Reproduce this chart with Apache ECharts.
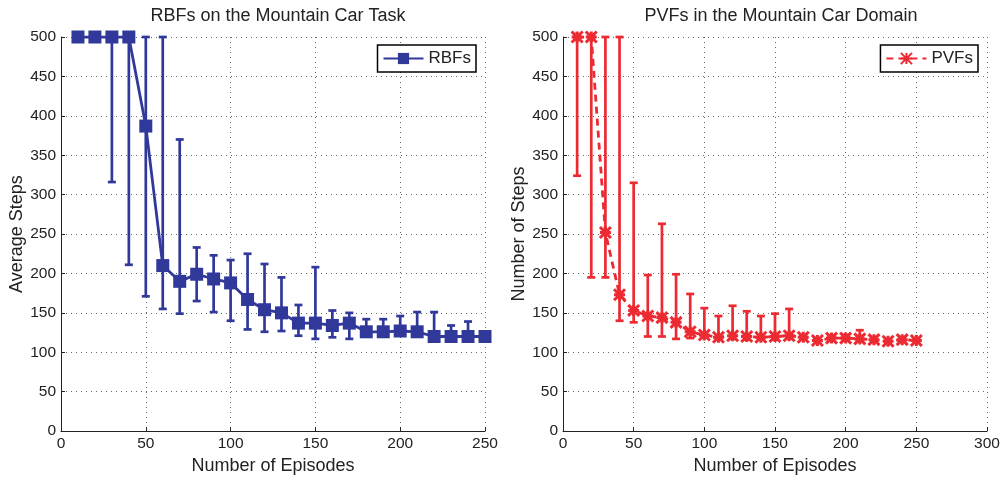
<!DOCTYPE html>
<html><head><meta charset="utf-8">
<script src="https://cdn.jsdelivr.net/npm/echarts@6/dist/echarts.min.js"></script>
<style>html,body{margin:0;padding:0;background:#fff}#c{width:1004px;height:480px}</style>
</head><body><div id="c"></div>
<script>
const episodes = [10,20,30,40,50,60,70,80,90,100,110,120,130,140,150,160,170,180,190,200,210,220,230,240,250];
const rbfMean = [500,500,500,500,387,210,190,199,193,188,167,154,150,137,137,134,137,126,126,127,126,120,120,120,120];
const rbfLow  = [500,500,316,211,171,155,149,165,151,140,129,126,127,121,117,119,117,121,120,123,122,118,118,118,120];
const rbfHigh = [500,500,500,500,500,500,370,233,223,217,225,212,195,160,208,153,150,142,142,146,151,151,134,139,120];
const pvfMean = [500,500,252,173,153,146,144,138,126,122,119,121,120,119,120,121,119,115,118,118,117,116,114,116,115];
const pvfLow  = [324,195,195,140,138,120,120,117,118,119,117,117,116,117,116,118,116,114,115,115,115,114,113,114,114];
const pvfHigh = [500,500,500,500,315,198,263,199,174,156,146,159,152,146,149,155,121,117,121,122,128,119,116,119,116];
const leftTitle = 'RBFs on the Mountain Car Task';
const rightTitle = 'PVFs in the Mountain Car Domain';

const BLUE = '#30399a';
const RED = '#ec2a32';
const FONT = '"Liberation Sans", Arial, sans-serif';

const chart = echarts.init(document.getElementById('c'), null, {renderer:'canvas'});

function errRender(color, capW, lw){
  return function(params, api){
    const x = api.value(0), lo = api.value(1), hi = api.value(2);
    if (hi - lo < 0.5) return null;
    const a = api.coord([x, lo]), b = api.coord([x, hi]);
    const st = {stroke: color, lineWidth: lw};
    return {type:'group', children:[
      {type:'line', shape:{x1:a[0], y1:a[1], x2:b[0], y2:b[1]}, style:st},
      {type:'line', shape:{x1:a[0]-capW, y1:a[1], x2:a[0]+capW, y2:a[1]}, style:st},
      {type:'line', shape:{x1:b[0]-capW, y1:b[1], x2:b[0]+capW, y2:b[1]}, style:st}
    ]};
  };
}
const pair = (xs, ys) => xs.map((x,i)=>[x, ys[i]]);
const triple = (xs, lo, hi) => xs.map((x,i)=>[x, lo[i], hi[i]]);

function xAxisDef(gi, max, name){
  return {gridIndex: gi, type:'value', min:0, max:max, interval:50,
    name: name, nameLocation:'middle', nameGap:23,
    nameTextStyle:{fontFamily:FONT, fontSize:18, color:'#222'},
    axisLine:{show:true, onZero:false, lineStyle:{color:'#222', width:1}},
    axisTick:{show:true, inside:true, length:4, lineStyle:{color:'#222'}},
    axisLabel:{fontFamily:FONT, fontSize:15.5, color:'#222', margin:5},
    splitLine:{show:true, lineStyle:{color:'#666', type:[1,4], width:1}}};
}
function yAxisDef(gi, name){
  return {gridIndex: gi, type:'value', min:0, max:500, interval:50,
    name: name, nameLocation:'middle', nameGap:35, nameRotate:90,
    nameTextStyle:{fontFamily:FONT, fontSize:18, color:'#222'},
    axisLine:{show:true, lineStyle:{color:'#222', width:1}},
    axisTick:{show:true, inside:true, length:4, lineStyle:{color:'#222'}},
    axisLabel:{fontFamily:FONT, fontSize:15.5, color:'#222', margin:5},
    splitLine:{show:true, lineStyle:{color:'#666', type:[1,4], width:1}}};
}

const xMark = 'path://M0,0L10,10M10,0L0,10M0,5L10,5M5,0L5,10';

chart.setOption({
  animation:false,
  title:[
    {text:leftTitle, left:273, top:2, textAlign:'center', textStyle:{fontFamily:FONT, fontSize:18, fontWeight:'normal', color:'#222'}},
    {text:rightTitle, left:776, top:2, textAlign:'center', textStyle:{fontFamily:FONT, fontSize:18, fontWeight:'normal', color:'#222'}}
  ],
  legend:[
    {data:['RBFs'], right:1004-476, top:45, orient:'vertical', borderColor:'#000', borderWidth:1.5, padding:[5,5,5,5],
     itemWidth:40, itemHeight:14, itemGap:0, textStyle:{fontFamily:FONT, fontSize:17, color:'#222'}, backgroundColor:'#fff'},
    {data:['PVFs'], right:1004-978, top:45, orient:'vertical', borderColor:'#000', borderWidth:1.5, padding:[5,5,5,5],
     itemWidth:40, itemHeight:14, itemGap:0, textStyle:{fontFamily:FONT, fontSize:17, color:'#222'}, backgroundColor:'#fff'}
  ],
  grid:[
    {left:61, top:37, width:424, height:395},
    {left:563, top:37, width:424, height:395}
  ],
  xAxis:[ xAxisDef(0, 250, 'Number of Episodes'), xAxisDef(1, 300, 'Number of Episodes') ],
  yAxis:[ yAxisDef(0, 'Average Steps'), yAxisDef(1, 'Number of Steps') ],
  series:[
    {type:'custom', xAxisIndex:0, yAxisIndex:0, data:triple(episodes, rbfLow, rbfHigh),
     renderItem: errRender(BLUE, 4, 2.7), z:2, silent:true},
    {name:'RBFs', type:'line', xAxisIndex:0, yAxisIndex:0, data:pair(episodes, rbfMean),
     symbol:'rect', symbolSize:13, lineStyle:{color:BLUE, width:2.8},
     itemStyle:{color:BLUE, borderColor:BLUE, borderWidth:0}, z:3},
    {type:'custom', xAxisIndex:1, yAxisIndex:1, data:triple(episodes, pvfLow, pvfHigh),
     renderItem: errRender(RED, 4, 2.7), z:2, silent:true},
    {name:'PVFs', type:'line', xAxisIndex:1, yAxisIndex:1, data:pair(episodes, pvfMean),
     symbol:xMark, symbolSize:11, lineStyle:{color:RED, width:2.8, type:[7,5]},
     itemStyle:{color:RED, borderColor:RED, borderWidth:3}, z:3}
  ]
});
</script></body></html>
